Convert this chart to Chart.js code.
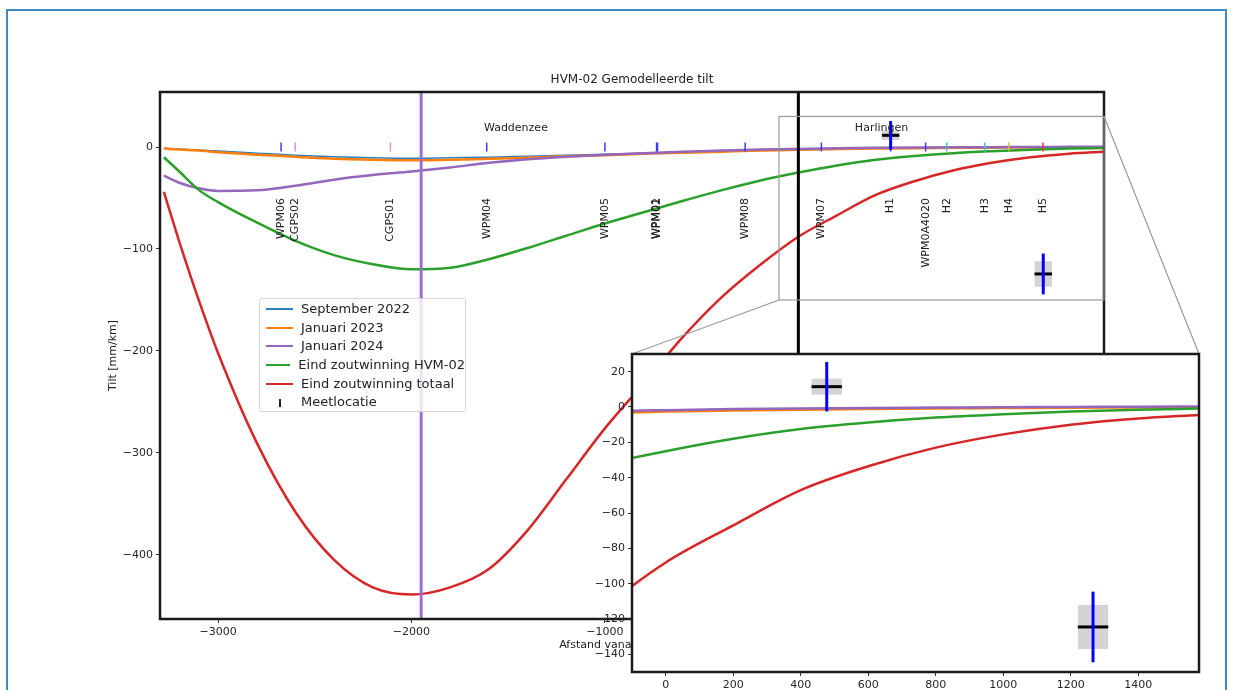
<!DOCTYPE html>
<html lang="nl">
<head>
<meta charset="UTF-8">
<meta name="viewport" content="width=device-width, initial-scale=1.0">
<title>HVM-02 Gemodelleerde tilt</title>
<script src="https://cdn.jsdelivr.net/npm/chart.js"></script>
<style>
    html, body { margin: 0; padding: 0; background: #fff; overflow: hidden; }
    #figuur { position: relative; width: 1233px; height: 690px; overflow: hidden; font-family: "DejaVu Sans", sans-serif; }
    #kader { position: absolute; left: 6px; top: 9px; width: 1221px; height: 720px; border: 2px solid #3b8dc4; box-sizing: border-box; }
    #hoofdGrafiek { position: absolute; left: 0; top: 0; }
    #inzetGrafiek { position: absolute; left: 582px; top: 344px; }
    #legenda {
        position: absolute; left: 259px; top: 298px; width: 207px; height: 114px; box-sizing: border-box;
        padding-top: 1px; border: 1px solid #d6d6d6; border-radius: 3px; background: rgba(255, 255, 255, 0.8);
        font-size: 13px; color: #222;
    }
    #legenda .rij { height: 18.7px; line-height: 18.7px; display: flex; align-items: center; white-space: nowrap; }
    #legenda .staal { width: 27px; margin-left: 6px; margin-right: 8px; position: relative; height: 18px; }
    #legenda .staal span { position: absolute; left: 0; right: 0; top: 50%; }
</style>
</head>
<body>
<div id="figuur">
    <div id="kader"></div>
    <canvas id="hoofdGrafiek" width="1233" height="690"></canvas>
    <div id="legenda"></div>
    <canvas id="inzetGrafiek" width="630" height="346"></canvas>
</div>

<script>
    const afstand = [-3280, -3200, -3100, -3000, -2800, -2600, -2400, -2200, -2000, -1800, -1600, -1400, -1200, -1000,
                     -800, -600, -400, -200, 0, 200, 400, 600, 800, 1000, 1200, 1400, 1580];

    // tilt [mm/km] per scenario
    const sep2022 = [-1, -2, -3, -4, -6, -8, -9.5, -10.5, -11, -10.5, -10, -9, -8, -7,
                     -6, -5, -4, -3, -2.2, -1.5, -1, -0.7, -0.5, -0.3, -0.2, -0.1, 0];
    const jan2023 = [-1.5, -2.5, -3.5, -5, -7.5, -9.5, -11.5, -12.5, -13, -12.5, -11.5, -10.5, -9, -8,
                     -6.5, -5.5, -4.5, -3.5, -2.6, -2, -1.5, -1.1, -0.8, -0.6, -0.4, -0.3, -0.2];
    const jan2024 = [-28, -35, -40.5, -43, -42.5, -38, -32, -27.5, -24, -20, -15.5, -12, -9.5, -7.5,
                     -6, -4.5, -3.5, -2.5, -1.8, -1.2, -0.8, -0.5, -0.3, -0.1, 0, 0.2, 0.3];
    const eindHVM02 = [-10, -24, -42, -54, -74, -92, -106, -115, -120, -118.5, -110, -99, -87, -75,
                       -64, -53, -42.5, -33, -25, -18, -12.5, -8.8, -6, -4.1, -2.6, -1.5, -0.9];
    const eindTotaal = [-44, -93, -150, -202, -290, -358, -405, -432, -439, -432, -414, -376, -326, -276,
                        -232, -187, -148, -116, -88, -67, -47, -33.5, -23, -15.5, -10, -6.5, -4.5];

    // meetlocaties langs het profiel
    const stationNamen = ['WPM06', 'CGPS02', 'CGPS01', 'WPM04', 'WPM05', 'WPM01', 'WPM02', 'WPM08', 'WPM07',
                          'H1', 'WPM0A4020', 'H2', 'H3', 'H4', 'H5'];
    const stationAfstand = [-2674, -2601, -2109, -1611, -1000, -733, -728, -275, 119, 477, 658, 767, 964, 1088, 1264];

    // gemeten tilt met onzekerheid
    const meetNamen = ['H1', 'H5'];
    const meetAfstand = [477, 1266];
    const meetTilt = [11.5, -124.5];
    const meetFoutX = [45, 45];
    const meetFoutY = [14, 20];
    const meetBand = [4.5, 12.5];

    // gebiedsnamen
    const gebiedNamen = ['Waddenzee', 'Harlingen'];
    const gebiedAfstand = [-1460, 430];
    const gebiedTilt = [19, 19];

    // verticale hulplijnen
    const verticaleLijnen = [-1950, 0];

    // assen en ticks
    const hoofdX = [-3300, 1580];
    const hoofdY = [-463, 54];
    const inzetX = [-100, 1580];
    const inzetY = [-150, 30];
    const hoofdXTicks = [-3000, -2000, -1000, 0, 1000];
    const hoofdYTicks = [-400, -300, -200, -100, 0];
    const inzetXTicks = [0, 200, 400, 600, 800, 1000, 1200, 1400];
    const inzetYTicks = [-140, -120, -100, -80, -60, -40, -20, 0, 20];

    // stijl
    const stationKleuren = ['#3b3bf0', '#e98fd6', '#e98fd6', '#3b3bf0', '#3b3bf0', '#3b3bf0', '#3b3bf0', '#3b3bf0', '#3b3bf0',
                            '#3b3bf0', '#3b3bf0', '#3fc4d8', '#3fc4d8', '#c8c040', '#e04040'];
    const lijnKleuren = ['#9a6fd0', '#000000'];
    const curves = [
        { label: 'September 2022', data: sep2022, kleur: '#2b7fc0', dikte: 1.5 },
        { label: 'Januari 2023', data: jan2023, kleur: '#ff7f0e', dikte: 2.5 },
        { label: 'Januari 2024', data: jan2024, kleur: '#9467bd', dikte: 2.5 },
        { label: 'Eind zoutwinning HVM-02', data: eindHVM02, kleur: '#2ca02c', dikte: 2.5 },
        { label: 'Eind zoutwinning totaal', data: eindTotaal, kleur: '#d62728', dikte: 2.5 }
    ];
    const FONT = '"DejaVu Sans", sans-serif';

    function lijnDatasets() {
        return curves.map((c, i) => ({
            label: c.label,
            data: afstand.map((x, k) => ({ x: x, y: c.data[k] })),
            borderColor: c.kleur,
            backgroundColor: c.kleur,
            borderWidth: c.dikte,
            pointRadius: 0,
            cubicInterpolationMode: 'monotone',
            fill: false,
            order: 6 - i
        }));
    }

    function minTeken(v) {
        return String(v).replace('-', '\u2212');
    }

    function as(bereik, ticks, breedte, hoogte) {
        return {
            type: 'linear', min: bereik[0], max: bereik[1],
            border: { display: false },
            grid: { drawOnChartArea: false, drawTicks: true, tickLength: 4, color: '#333', tickWidth: 1 },
            ticks: { autoSkip: false, maxRotation: 0, padding: 3,
                     color: '#262626', font: { family: FONT, size: 11 }, callback: minTeken },
            afterBuildTicks: s => { s.ticks = ticks.map(v => ({ value: v })); },
            afterFit: s => { if (breedte) s.width = breedte; if (hoogte) s.height = hoogte; }
        };
    }

    function tekenMetingen(ctx, sx, sy) {
        ctx.save();
        for (let i = 0; i < meetNamen.length; i++) {
            const x0 = sx.getPixelForValue(meetAfstand[i] - meetFoutX[i]);
            const x1 = sx.getPixelForValue(meetAfstand[i] + meetFoutX[i]);
            const px = sx.getPixelForValue(meetAfstand[i]);
            const py = sy.getPixelForValue(meetTilt[i]);
            const b0 = sy.getPixelForValue(meetTilt[i] + meetBand[i]);
            const b1 = sy.getPixelForValue(meetTilt[i] - meetBand[i]);
            ctx.fillStyle = 'rgba(170, 170, 170, 0.5)';
            ctx.fillRect(x0, b0, x1 - x0, b1 - b0);
            ctx.strokeStyle = '#000';
            ctx.lineWidth = 3;
            ctx.beginPath(); ctx.moveTo(x0, py); ctx.lineTo(x1, py); ctx.stroke();
            ctx.strokeStyle = '#0000ff';
            ctx.beginPath();
            ctx.moveTo(px, sy.getPixelForValue(meetTilt[i] + meetFoutY[i]));
            ctx.lineTo(px, sy.getPixelForValue(meetTilt[i] - meetFoutY[i]));
            ctx.stroke();
        }
        ctx.restore();
    }

    // ---------- inzet (uitvergroting) ----------
    const inzetDecor = {
        id: 'inzetDecor',
        beforeDraw(chart) {
            const a = chart.chartArea;
            chart.ctx.save();
            chart.ctx.fillStyle = '#fff';
            chart.ctx.fillRect(a.left, a.top, a.width, a.height);
            chart.ctx.restore();
        },
        afterDatasetsDraw(chart) {
            const { ctx, chartArea: a } = chart;
            ctx.save();
            ctx.beginPath(); ctx.rect(a.left, a.top, a.width, a.height); ctx.clip();
            tekenMetingen(ctx, chart.scales.x, chart.scales.y);
            ctx.restore();
        },
        afterDraw(chart) {
            const { ctx, chartArea: a } = chart;
            ctx.save();
            ctx.strokeStyle = '#1a1a1a';
            ctx.lineWidth = 2.5;
            ctx.strokeRect(a.left, a.top, a.width, a.height);
            ctx.restore();
        }
    };

    const inzetGrafiek = new Chart(document.getElementById('inzetGrafiek'), {
        type: 'line',
        data: { datasets: lijnDatasets() },
        options: {
            responsive: false,
            animation: false,
            layout: { padding: { top: 10, right: 13, left: 0, bottom: 0 } },
            plugins: { legend: { display: false }, tooltip: { enabled: false } },
            scales: {
                x: as(inzetX, inzetXTicks, null, 18),
                y: as(inzetY, inzetYTicks, 50, null)
            }
        },
        plugins: [inzetDecor]
    });

    // ---------- hoofdgrafiek ----------
    const hoofdDecor = {
        id: 'hoofdDecor',
        afterDatasetsDraw(chart) {
            const { ctx, chartArea: a, scales: { x, y } } = chart;
            ctx.save();
            ctx.beginPath(); ctx.rect(a.left, a.top, a.width, a.height); ctx.clip();
            tekenMetingen(ctx, x, y);

            // stationsnamen, verticaal
            ctx.fillStyle = '#222';
            ctx.font = '11px ' + FONT;
            ctx.textAlign = 'right';
            ctx.textBaseline = 'middle';
            stationNamen.forEach((naam, i) => {
                ctx.save();
                ctx.translate(x.getPixelForValue(stationAfstand[i]), y.getPixelForValue(-50));
                ctx.rotate(-Math.PI / 2);
                ctx.fillText(naam, 0, 0);
                ctx.restore();
            });

            // gebiedsnamen
            ctx.textAlign = 'center';
            gebiedNamen.forEach((naam, i) => {
                ctx.fillText(naam, x.getPixelForValue(gebiedAfstand[i]), y.getPixelForValue(gebiedTilt[i]));
            });
            ctx.restore();
        },
        afterDraw(chart) {
            const { ctx, chartArea: a, scales: { x, y } } = chart;
            ctx.save();

            // assenkader
            ctx.strokeStyle = '#1a1a1a';
            ctx.lineWidth = 2.5;
            ctx.strokeRect(a.left, a.top, a.width, a.height);

            // kader van het uitvergrote gebied en verbindingslijnen
            const rx0 = x.getPixelForValue(inzetX[0]), rx1 = x.getPixelForValue(inzetX[1]);
            const ry0 = y.getPixelForValue(inzetY[1]), ry1 = y.getPixelForValue(inzetY[0]);
            ctx.strokeStyle = '#9a9a9a';
            ctx.lineWidth = 1.2;
            ctx.strokeRect(rx0, ry0, rx1 - rx0, ry1 - ry0);
            const ic = document.getElementById('inzetGrafiek');
            const ia = inzetGrafiek.chartArea;
            const il = ic.offsetLeft + ia.left, ir = ic.offsetLeft + ia.right, it = ic.offsetTop + ia.top;
            ctx.beginPath();
            ctx.moveTo(rx0, ry1); ctx.lineTo(il, it);
            ctx.moveTo(rx1, ry0); ctx.lineTo(ir, it);
            ctx.stroke();

            // titels
            ctx.fillStyle = '#222';
            ctx.textBaseline = 'middle';
            ctx.textAlign = 'center';
            ctx.font = '12px ' + FONT;
            ctx.fillText('HVM-02 Gemodelleerde tilt', (a.left + a.right) / 2, a.top - 12);
            ctx.font = '11px ' + FONT;
            ctx.fillText('Afstand vanaf HVM-02 [m]', (a.left + a.right) / 2, 645);
            ctx.save();
            ctx.translate(113, (a.top + a.bottom) / 2);
            ctx.rotate(-Math.PI / 2);
            ctx.fillText('Tilt [mm/km]', 0, 0);
            ctx.restore();
            ctx.restore();
        }
    };

    const datasets = lijnDatasets();
    datasets.push({
        label: 'Meetlocatie',
        data: stationAfstand.map(s => ({ x: s, y: 0 })),
        showLine: false,
        pointStyle: 'line',
        rotation: 90,
        pointRadius: 4.5,
        pointBorderWidth: 1.5,
        pointBorderColor: stationKleuren,
        pointBackgroundColor: stationKleuren,
        borderColor: '#000',
        order: 1
    });
    verticaleLijnen.forEach((v, i) => {
        datasets.push({
            label: 'lijn' + i,
            data: [{ x: v, y: hoofdY[0] }, { x: v, y: hoofdY[1] }],
            borderColor: lijnKleuren[i],
            borderWidth: 3,
            pointRadius: 0,
            order: 0
        });
    });

    new Chart(document.getElementById('hoofdGrafiek'), {
        type: 'line',
        data: { datasets: datasets },
        options: {
            responsive: false,
            animation: false,
            layout: { padding: { top: 92, right: 129, left: 0, bottom: 0 } },
            plugins: { legend: { display: false }, tooltip: { enabled: false } },
            scales: {
                x: as(hoofdX, hoofdXTicks, null, 71),
                y: as(hoofdY, hoofdYTicks, 160, null)
            }
        },
        plugins: [hoofdDecor]
    });

    // legenda
    const legenda = document.getElementById('legenda');
    curves.forEach(c => {
        const d = Math.max(c.dikte, 2);
        legenda.insertAdjacentHTML('beforeend',
            '<div class="rij"><div class="staal"><span style="border-top:' + d + 'px solid ' + c.kleur +
            ';margin-top:-' + (d / 2) + 'px"></span></div>' + c.label + '</div>');
    });
    legenda.insertAdjacentHTML('beforeend',
        '<div class="rij"><div class="staal"><span style="left:12.5px;right:auto;width:2px;height:8px;top:5px;background:#222"></span></div>Meetlocatie</div>');
</script>
</body>
</html>
